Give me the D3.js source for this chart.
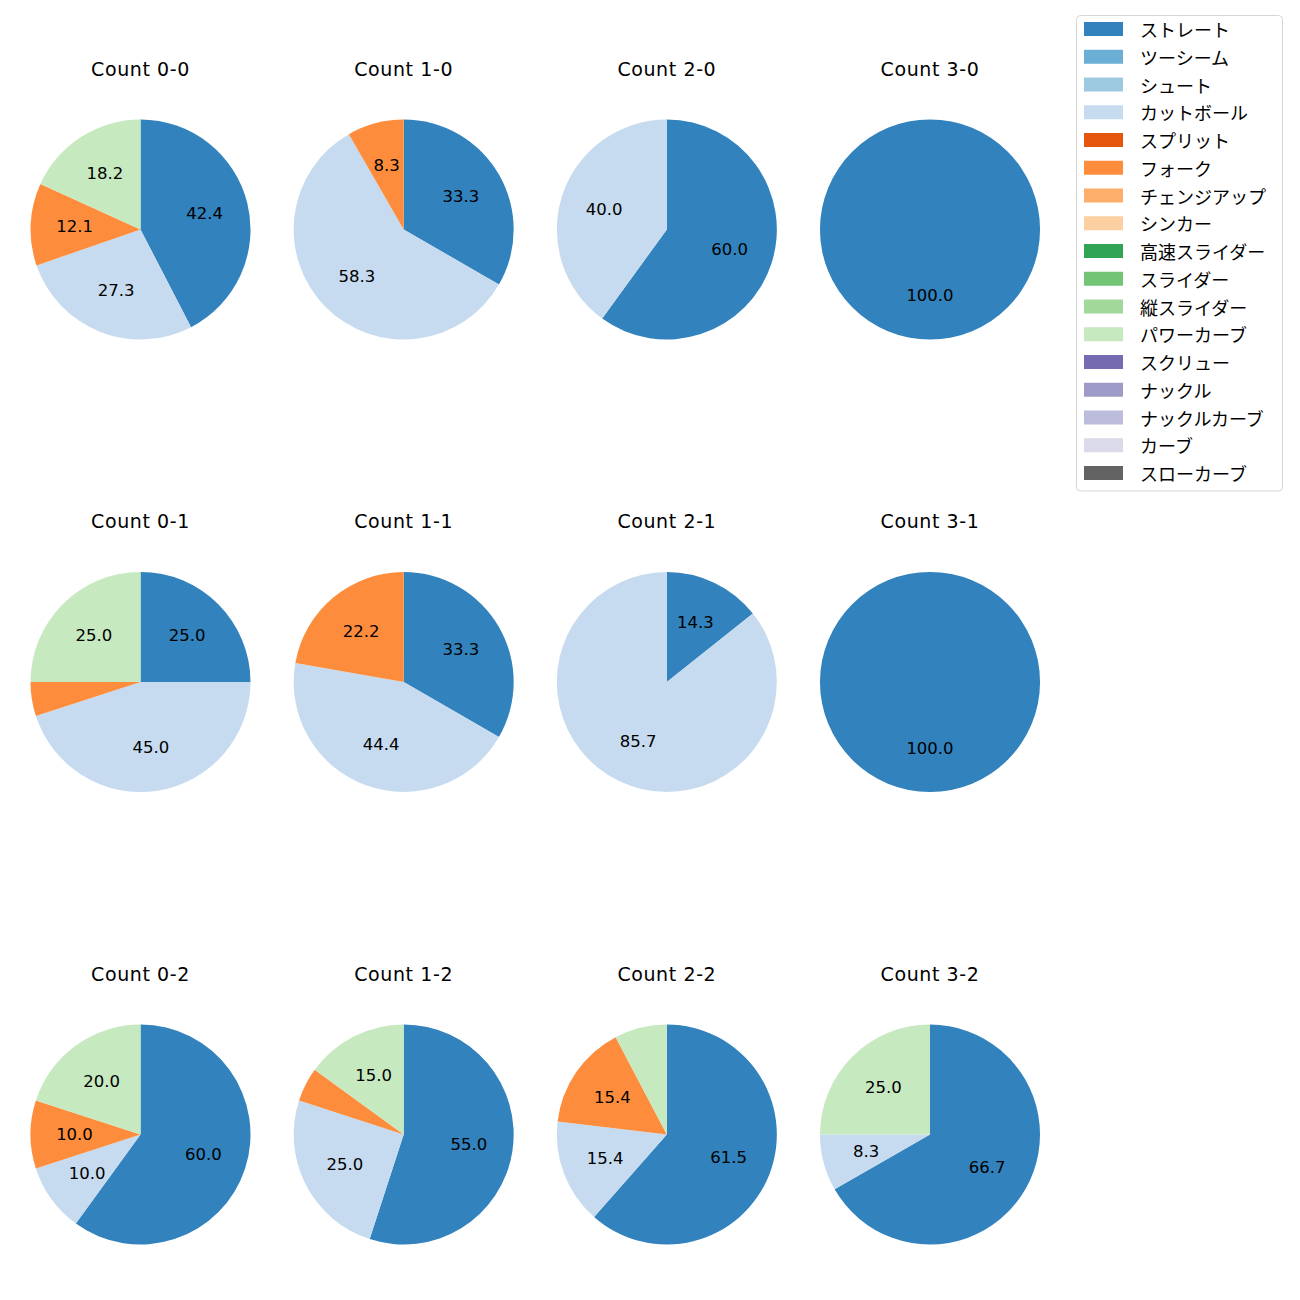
<!DOCTYPE html>
<html><head><meta charset="utf-8">
<script src="https://cdn.jsdelivr.net/npm/d3@7"></script>
<style>body{margin:0;background:#fff;} text{font-family:"Noto Sans CJK JP","Noto Sans",sans-serif;} .lat{font-family:"DejaVu Sans",sans-serif;}</style>
</head><body>
<svg id="c" width="1300" height="1300"></svg>
<script>
const pitchTypes = ["ストレート","ツーシーム","シュート","カットボール","スプリット","フォーク","チェンジアップ","シンカー","高速スライダー","スライダー","縦スライダー","パワーカーブ","スクリュー","ナックル","ナックルカーブ","カーブ","スローカーブ"];
const colors = ["#3182bd","#6baed6","#9ecae1","#c6dbef","#e6550d","#fd8d3c","#fdae6b","#fdd0a2","#31a354","#74c476","#a1d99b","#c7e9c0","#756bb1","#9e9ac8","#bcbddc","#dadaeb","#636363"];
const counts = ["0-0","1-0","2-0","3-0","0-1","1-1","2-1","3-1","0-2","1-2","2-2","3-2"];
// values per count: ストレート, カットボール, フォーク, パワーカーブ (others zero)
const straight =  [42.4, 33.3, 60.0, 100.0, 25.0, 33.3, 14.3, 100.0, 60.0, 55.0, 61.5, 66.7];
const cutter =    [27.3, 58.3, 40.0,   0.0, 45.0, 44.4, 85.7,   0.0, 10.0, 25.0, 15.4,  8.3];
const fork =      [12.1,  8.3,  0.0,   0.0,  5.0, 22.2,  0.0,   0.0, 10.0,  5.0, 15.4,  0.0];
const powerCurve =[18.2,  0.0,  0.0,   0.0, 25.0,  0.0,  0.0,   0.0, 20.0, 15.0,  7.7, 25.0];
const labelThreshold = 8;

const svg = d3.select("#c");
const colX = d3.scalePoint().domain([0,1,2,3]).range([140.5, 930]);
const rowY = d3.scalePoint().domain([0,1,2]).range([229.5, 1134.5]);
const R = 110;
const color = d3.scaleOrdinal().domain(pitchTypes).range(colors);
const pie = d3.pie().sort(null).value(d => d.v).startAngle(0).endAngle(2*Math.PI);
const arc = d3.arc().innerRadius(0).outerRadius(R);
const labelArc = d3.arc().innerRadius(R*0.6).outerRadius(R*0.6);

counts.forEach((cnt, i) => {
  const cx = colX(i % 4), cy = rowY(Math.floor(i / 4));
  const data = [
    {k:"ストレート", v: straight[i]},
    {k:"カットボール", v: cutter[i]},
    {k:"フォーク", v: fork[i]},
    {k:"パワーカーブ", v: powerCurve[i]}
  ].filter(d => d.v > 0);
  const g = svg.append("g").attr("transform", `translate(${cx},${cy})`);
  const arcs = pie(data);
  g.selectAll("path").data(arcs).enter().append("path")
    .attr("d", arc).attr("fill", d => color(d.data.k));
  g.selectAll("text.lbl").data(arcs.filter(d => d.data.v >= labelThreshold)).enter().append("text")
    .attr("class","lbl lat")
    .attr("transform", d => {
      if (d.data.v >= 99.9) return `translate(0,${R*0.6})`;
      return `translate(${labelArc.centroid(d)})`;
    })
    .attr("text-anchor","middle").attr("dominant-baseline","central")
    .attr("font-size", 16.5).attr("fill","#000")
    .text(d => d.data.v.toFixed(1));
  svg.append("text").attr("class","lat").attr("x", cx).attr("y", cy - 161)
    .attr("text-anchor","middle").attr("dominant-baseline","central")
    .attr("font-size", 19).attr("letter-spacing", 0.6).attr("fill","#000").text("Count " + cnt);
});

// legend
const lg = svg.append("g");
lg.append("rect").attr("x",1076.5).attr("y",15.5).attr("width",206).attr("height",475.5)
  .attr("rx",4).attr("fill","#fff").attr("fill-opacity",0.8).attr("stroke","#d6d6d6");
const ly = d3.scaleLinear().domain([0, pitchTypes.length-1]).range([29, 473]);
pitchTypes.forEach((p, j) => {
  lg.append("rect").attr("x",1084).attr("y",ly(j)-7).attr("width",39).attr("height",14).attr("fill",color(p));
  lg.append("text").attr("x",1140).attr("y",ly(j)).attr("dominant-baseline","central")
    .attr("font-size",18).attr("fill","#000").text(p);
});
</script>
</body></html>
